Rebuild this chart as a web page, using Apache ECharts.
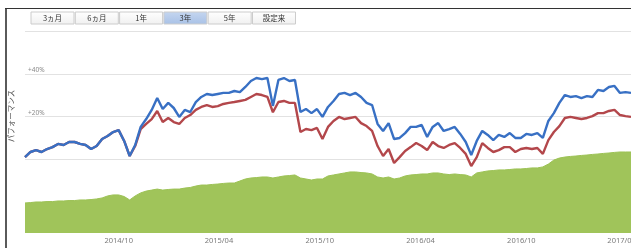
<!DOCTYPE html>
<html><head><meta charset="utf-8">
<script src="https://cdn.jsdelivr.net/npm/echarts@6/dist/echarts.min.js"></script>
<style>html,body{margin:0;padding:0;background:#fff}#c{width:631px;height:248px}</style>
</head><body><div id="c"></div>
<script>
const dates = ['2014-04-14','2014-04-24','2014-05-04','2014-05-14','2014-05-24','2014-06-03','2014-06-13','2014-06-23','2014-07-03','2014-07-13',
'2014-07-23','2014-08-02','2014-08-12','2014-08-22','2014-09-01','2014-09-11','2014-09-21','2014-10-01','2014-10-11','2014-10-21',
'2014-10-31','2014-11-10','2014-11-20','2014-11-30','2014-12-10','2014-12-20','2014-12-30','2015-01-09','2015-01-19','2015-01-29',
'2015-02-08','2015-02-18','2015-02-28','2015-03-10','2015-03-20','2015-03-30','2015-04-09','2015-04-19','2015-04-29','2015-05-09',
'2015-05-19','2015-05-29','2015-06-08','2015-06-18','2015-06-28','2015-07-08','2015-07-18','2015-07-28','2015-08-07','2015-08-17',
'2015-08-27','2015-09-06','2015-09-16','2015-09-26','2015-10-06','2015-10-16','2015-10-26','2015-11-05','2015-11-15','2015-11-25',
'2015-12-05','2015-12-15','2015-12-25','2016-01-04','2016-01-14','2016-01-24','2016-02-03','2016-02-13','2016-02-23','2016-03-04',
'2016-03-14','2016-03-24','2016-04-03','2016-04-13','2016-04-23','2016-05-03','2016-05-13','2016-05-23','2016-06-02','2016-06-12',
'2016-06-22','2016-07-02','2016-07-12','2016-07-22','2016-08-01','2016-08-11','2016-08-21','2016-08-31','2016-09-10','2016-09-20',
'2016-09-30','2016-10-10','2016-10-20','2016-10-30','2016-11-09','2016-11-19','2016-11-29','2016-12-09','2016-12-19','2016-12-29',
'2017-01-08','2017-01-18','2017-01-28','2017-02-07','2017-02-17','2017-02-27','2017-03-09','2017-03-19','2017-03-29','2017-04-08','2017-04-18'];

// fund performance (%), blue
const fundPerf = [0.9,3.3,4.2,3.3,4.7,5.6,7.1,6.6,8.0,8.0,
7.1,6.6,4.7,6.1,9.4,10.8,12.7,13.6,8.5,1.4,
6.6,15.1,18.8,23.1,28.7,23.5,26.4,24.0,19.8,23.1,
22.1,26.8,29.2,30.6,30.1,30.6,31.1,31.1,32.0,31.5,
33.9,36.7,38.1,37.6,38.1,25.0,37.2,38.1,36.7,37.2,
22.1,23.5,21.6,23.5,19.8,24.5,27.3,30.6,31.1,30.1,
31.1,29.2,26.4,25.4,16.5,13.2,16.9,9.4,9.9,12.2,
15.1,15.1,16.0,10.4,15.1,16.9,13.2,14.1,15.1,11.8,
8.0,1.9,8.5,13.2,11.3,8.9,11.3,10.4,12.2,9.9,
9.9,11.8,11.3,12.2,9.9,17.9,21.6,26.4,30.1,29.2,
29.6,28.7,29.6,29.2,32.5,32.0,33.9,34.4,31.1,31.5,31.1];

// benchmark performance (%), red
const benchPerf = [0.9,3.3,4.2,3.3,4.7,5.6,7.1,6.6,8.0,8.0,
7.1,6.6,4.7,6.1,9.4,10.8,12.7,13.6,8.5,1.4,
6.1,14.1,16.5,18.8,22.6,17.4,19.3,17.4,16.5,19.3,
20.7,23.1,24.5,25.4,24.5,24.9,25.9,26.4,26.8,27.3,
27.8,29.2,30.6,30.1,29.2,22.0,26.8,27.3,26.4,26.4,
12.7,14.1,13.6,14.6,9.4,15.1,17.9,19.8,18.8,19.3,
19.8,16.9,15.5,13.2,6.1,1.4,4.7,-1.9,0.9,3.8,
5.6,7.5,6.1,4.2,8.0,6.1,5.2,6.6,7.5,5.2,
2.4,-3.3,0.9,7.5,5.2,3.3,4.2,5.6,5.6,3.3,
4.7,5.2,4.7,5.2,2.4,8.9,12.7,15.5,19.3,19.8,
19.3,18.8,19.3,20.2,21.6,21.6,22.6,23.1,20.7,20.2,19.8];

// net assets (relative units), green area
const netAssets = [14.9,15.1,15.4,15.4,15.6,15.6,15.9,15.9,16.1,16.1,
16.4,16.4,16.6,16.9,17.4,18.4,18.9,18.9,18.1,16.4,
18.4,19.9,20.8,21.3,21.8,21.3,21.6,21.8,21.8,22.3,
22.6,23.3,23.8,23.8,24.1,24.3,24.6,24.8,24.8,25.8,
26.8,27.3,27.5,27.8,27.8,27.3,27.8,28.3,28.5,28.8,
27.3,26.8,26.3,26.8,26.8,28.3,28.8,29.3,29.8,30.3,
30.3,30.0,29.8,29.3,27.8,27.3,27.8,26.8,27.3,28.3,
28.8,29.0,29.3,29.3,29.8,29.8,29.3,29.0,29.3,29.0,
28.8,27.8,29.8,30.3,30.8,31.0,31.3,31.3,31.5,31.8,
31.8,32.0,32.3,32.3,32.8,34.2,36.2,37.2,37.7,38.0,
38.2,38.5,38.7,39.0,39.2,39.5,39.7,40.0,40.2,40.2,40.2];

const xTickDates = ['2014-10-01','2015-04-01','2015-10-01','2016-04-01','2016-10-01','2017-04-01'];
const xTickLabels = ['2014/10','2015/04','2015/10','2016/04','2016/10','2017/04'];
const yGridValues = [0, 20, 40, 60];
const yTickValues = [20, 40];
const yTickLabels = ['+20%', '+40%'];
const yAxisTitle = 'パフォーマンス';
const buttonLabels = ['3ヵ月','6ヵ月','1年','3年','5年','設定来'];
const selectedButton = 3;

const toTs = s => { const p = s.split('-'); return Date.UTC(+p[0], +p[1]-1, +p[2]); };
const xTickTs = xTickDates.map(toTs);

const chart = echarts.init(document.getElementById('c'), null, {renderer: 'canvas'});

const graphics = [
  {type:'rect', shape:{x:5, y:8, width:2, height:240}, style:{fill:'#5a5a5a'}, z:100},
  {type:'rect', shape:{x:5, y:8, width:626, height:1}, style:{fill:'#333'}, z:100},
  {type:'text', x: 11.5, y: 116, rotation: Math.PI / 2,
    style:{text: yAxisTitle, fill:'#555', font:'7.5px "Noto Sans CJK JP"', align:'center', verticalAlign:'middle'}, z:101}
];
buttonLabels.forEach((t, i) => {
  const x = 31 + i * 44.3;
  const sel = i === selectedButton;
  graphics.push({type:'rect', shape:{x:x, y:12, width:43, height:12},
    style:{fill: sel ? new echarts.graphic.LinearGradient(0,0,0,1,[{offset:0,color:'#c5d6f0'},{offset:1,color:'#a8c1e6'}]) :
      new echarts.graphic.LinearGradient(0,0,0,1,[{offset:0,color:'#ffffff'},{offset:1,color:'#f0f0f0'}]),
      stroke:'#cccccc', lineWidth:1}, z:100});
  graphics.push({type:'text', x: x + 21.5, y: 18.5, style:{text:t, fill:'#333', font:'7.5px "Noto Sans CJK JP"', align:'center', verticalAlign:'middle'}, z:101});
});

chart.setOption({
  animation: false,
  graphic: graphics,
  grid: {left: 25, right: 0, top: 31.5, bottom: 15, containLabel: false, outerBoundsMode: 'none'},
  xAxis: {
    type: 'value', min: toTs(dates[0]), max: toTs(dates[dates.length-1]),
    axisLine: {show: false}, axisTick: {show: false}, splitLine: {show: false},
    axisLabel: {
      customValues: xTickTs, color: '#7a7a7a', fontSize: 7.5, margin: 4, fontFamily: 'Noto Sans',
      hideOverlap: false, showMinLabel: true, showMaxLabel: true,
      formatter: v => { const k = xTickTs.indexOf(v); return k >= 0 ? xTickLabels[k] : ''; }
    }
  },
  yAxis: [{
    type: 'value', min: -34.82, max: 60,
    axisLine: {show: false}, axisTick: {show: false, customValues: yGridValues},
    splitLine: {lineStyle: {color: '#e2e2e2', width: 1}},
    axisLabel: {inside: true, margin: 3, color: '#8a8a8a', fontSize: 6.5, verticalAlign: 'bottom', fontFamily: 'Noto Sans',
      customValues: yTickValues,
      formatter: v => { const k = yTickValues.indexOf(Math.round(v)); return k >= 0 ? yTickLabels[k] : ''; }}
  }, {
    type: 'value', min: 0, max: 100, show: false, splitLine: {show: false}
  }],
  series: [{
    type: 'line', yAxisIndex: 1, data: dates.map((d, i) => [toTs(d), netAssets[i]]),
    showSymbol: false, symbol: 'none', lineStyle: {width: 1, color: '#9cc255'},
    areaStyle: {color: '#a0c45a', opacity: 1}, z: 2
  }, {
    type: 'line', data: dates.map((d, i) => [toTs(d), benchPerf[i]]),
    showSymbol: false, symbol: 'none', lineStyle: {width: 2.4, color: '#b3474b'}, z: 3
  }, {
    type: 'line', data: dates.map((d, i) => [toTs(d), fundPerf[i]]),
    showSymbol: false, symbol: 'none', lineStyle: {width: 2.4, color: '#3870c4'}, z: 4
  }]
});
</script></body></html>
